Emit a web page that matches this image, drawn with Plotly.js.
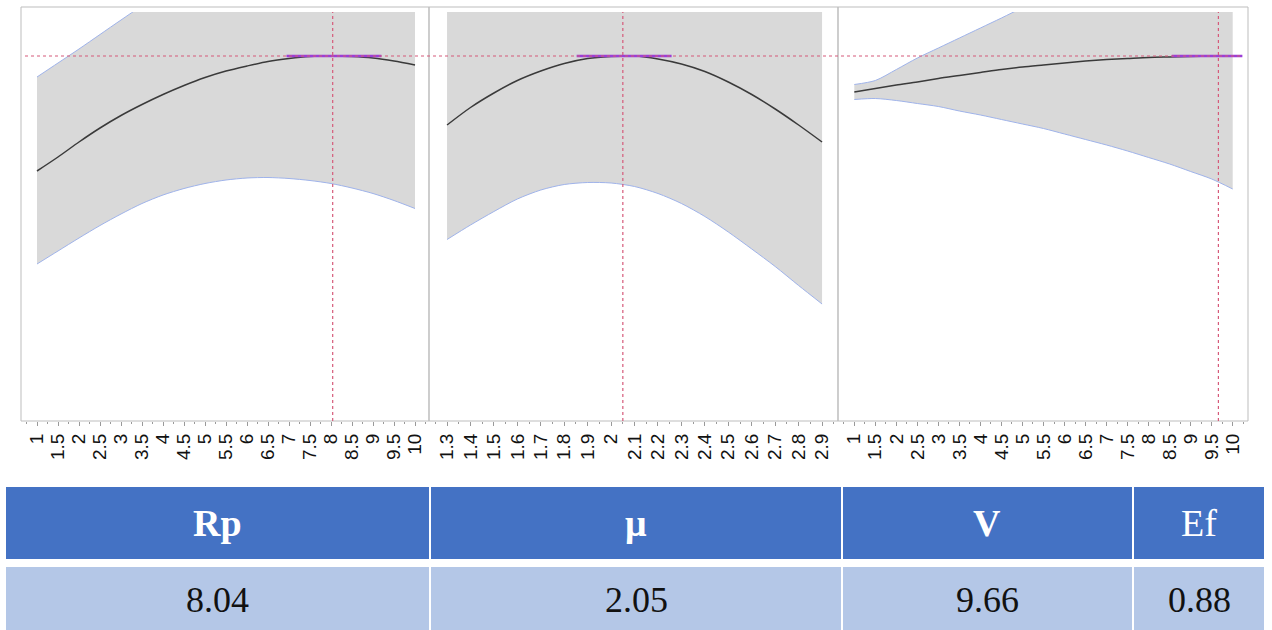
<!DOCTYPE html>
<html>
<head>
<meta charset="utf-8">
<script src="https://cdn.plot.ly/plotly-3.0.1.min.js"></script>
<style>html,body{margin:0;padding:0;background:#fff;}#chart{width:1272px;height:630px;}</style>
</head>
<body>
<div id="chart"></div>
<script>
// ---------------- data ----------------
const rpX = [1,1.5,2,2.5,3,3.5,4,4.5,5,5.5,6,6.5,7,7.5,8,8.5,9,9.5,10];
const rpMean  = [0.650,0.678,0.708,0.736,0.761,0.783,0.803,0.821,0.837,0.850,0.860,0.869,0.875,0.879,0.880,0.879,0.876,0.870,0.862];
const rpLower = [0.464,0.490,0.516,0.541,0.564,0.585,0.602,0.615,0.625,0.632,0.636,0.637,0.635,0.631,0.625,0.616,0.605,0.591,0.575];
const rpUpper = [0.838,0.866,0.894,0.923,0.952,0.980,1.002,1.026,1.048,1.068,1.084,1.100,1.114,1.128,1.136,1.142,1.150,1.152,1.152];

const muX = [1.3,1.4,1.5,1.6,1.7,1.8,1.9,2.0,2.1,2.2,2.3,2.4,2.5,2.6,2.7,2.8,2.9];
const muMean  = [0.742,0.777,0.806,0.831,0.850,0.865,0.875,0.879,0.880,0.874,0.864,0.849,0.828,0.803,0.774,0.742,0.708];
const muLower = [0.513,0.542,0.569,0.594,0.612,0.623,0.627,0.626,0.619,0.605,0.585,0.559,0.528,0.494,0.459,0.421,0.384];
const muUpper = [0.970,1.008,1.039,1.069,1.089,1.107,1.123,1.133,1.139,1.142,1.142,1.136,1.118,1.101,1.081,1.060,1.033];

const vX = [1,1.5,2,2.5,3,3.5,4,4.5,5,5.5,6,6.5,7,7.5,8,8.5,9,9.5,10];
const vMean  = [0.808,0.815,0.822,0.828,0.835,0.841,0.847,0.853,0.858,0.862,0.866,0.870,0.873,0.875,0.877,0.878,0.879,0.880,0.880];
const vLower = [0.793,0.795,0.791,0.785,0.779,0.770,0.762,0.753,0.744,0.735,0.724,0.713,0.702,0.690,0.677,0.664,0.649,0.634,0.614];
const vUpper = [0.823,0.831,0.853,0.876,0.896,0.916,0.936,0.956,0.976,0.989,1.008,1.027,1.044,1.060,1.077,1.093,1.110,1.126,1.146];

// optimum settings and predicted desirability
const optNames  = ['Rp', 'μ', 'V'];
const optValues = [8.04, 2.05, 9.66];
const efValue = 0.88;
// near-optimal (flat) ranges drawn in purple
const bandLo = [6.94, 1.853, 8.55];
const bandHi = [9.20, 2.258, 10.23];

// table
const tableHeaders = ['<b>Rp</b>', '<b>μ</b>', '<b>V</b>', 'Ef'];
const tableValues  = ['8.04', '2.05', '9.66', '0.88'];

// ---------------- layout helpers ----------------
const W = 1272, H = 630;
const px = v => v / W;
const py = v => 1 - v / H;
const serif = 'Liberation Serif';

const panels = [
  {x: rpX, m: rpMean, lo: rpLower, up: rpUpper, xa: 'x',  ya: 'y'},
  {x: muX, m: muMean, lo: muLower, up: muUpper, xa: 'x2', ya: 'y2'},
  {x: vX,  m: vMean,  lo: vLower,  up: vUpper,  xa: 'x3', ya: 'y3'}
];

const ciColor = '#9fb3ea';
const fillColor = '#d9d9d9';
const refColor = '#d65a7a';
const purple = '#9b3fd6';

const traces = [];
panels.forEach((p, i) => {
  traces.push({x: p.x, y: p.lo, xaxis: p.xa, yaxis: p.ya, type: 'scatter', mode: 'lines',
    line: {color: ciColor, width: 1, shape: 'spline', smoothing: 0.8}, hoverinfo: 'skip', showlegend: false});
  traces.push({x: p.x, y: p.up, xaxis: p.xa, yaxis: p.ya, type: 'scatter', mode: 'lines',
    fill: 'tonexty', fillcolor: fillColor,
    line: {color: ciColor, width: 1, shape: 'spline', smoothing: 0.8}, hoverinfo: 'skip', showlegend: false});
  traces.push({x: p.x, y: p.m, xaxis: p.xa, yaxis: p.ya, type: 'scatter', mode: 'lines',
    line: {color: '#3a3a3a', width: 1.5, shape: 'spline', smoothing: 0.8}, showlegend: false});
  traces.push({x: [bandLo[i], bandHi[i]], y: [efValue, efValue], xaxis: p.xa, yaxis: p.ya,
    type: 'scatter', mode: 'lines', line: {color: purple, width: 2.5}, showlegend: false, cliponaxis: false});
});

// panel frames (pixel boxes)
const frames = [[21, 429], [429, 838], [838, 1248]];
const ranges = [[0.619, 10.333], [1.223, 2.968], [0.612, 10.364]];
const ticks0 = [1, 1.3, 1];
const dticks = [0.5, 0.1, 0.5];
const ydom = [py(421), py(12)];
const yrange = [0.150, 0.968];

const layout = {
  width: W, height: H,
  margin: {l: 0, r: 0, t: 0, b: 0},
  paper_bgcolor: '#fff', plot_bgcolor: 'rgba(0,0,0,0)',
  showlegend: false,
  shapes: [], annotations: []
};

frames.forEach((f, i) => {
  const s = i === 0 ? '' : String(i + 1);
  layout['xaxis' + s] = {
    domain: [px(f[0]), px(f[1])], range: ranges[i], anchor: 'y' + s,
    tick0: ticks0[i], dtick: dticks[i], tickangle: -90,
    ticks: 'outside', ticklen: 4, tickcolor: '#9a9a9a', tickwidth: 1,
    minor: {dtick: dticks[i] / 2, ticks: 'outside', ticklen: 2, tickcolor: '#9a9a9a', showgrid: false},
    tickfont: {family: 'Liberation Sans', size: 19, color: '#111'},
    showgrid: false, zeroline: false, showline: false, fixedrange: true
  };
  layout['yaxis' + s] = {
    domain: ydom, range: yrange, anchor: 'x' + s,
    showticklabels: false, ticks: '', showgrid: false, zeroline: false, showline: false, fixedrange: true
  };
  layout.shapes.push({type: 'rect', xref: 'paper', yref: 'paper',
    x0: px(f[0]), x1: px(f[1]), y0: py(421), y1: py(7),
    line: {color: '#bdbdbd', width: 1}, fillcolor: 'rgba(0,0,0,0)'});
  // vertical reference at optimum
  layout.shapes.push({type: 'line', xref: 'x' + s, yref: 'y' + s + ' domain',
    x0: optValues[i], x1: optValues[i], y0: 0, y1: 1,
    line: {color: refColor, width: 1.2, dash: 'dot'}});
});
// horizontal reference at predicted desirability
layout.shapes.push({type: 'line', xref: 'paper', yref: 'y',
  x0: px(25), x1: px(1242), y0: efValue, y1: efValue,
  line: {color: refColor, width: 1.2, dash: 'dot'}});

// table (header + value rows)
const cols = [[6, 429], [431, 841], [843, 1132], [1134, 1264]];
cols.forEach((c, i) => {
  layout.shapes.push({type: 'rect', xref: 'paper', yref: 'paper', layer: 'below',
    x0: px(c[0]), x1: px(c[1]), y0: py(559), y1: py(487), line: {width: 0}, fillcolor: '#4472C4'});
  layout.shapes.push({type: 'rect', xref: 'paper', yref: 'paper', layer: 'below',
    x0: px(c[0]), x1: px(c[1]), y0: py(634), y1: py(567), line: {width: 0}, fillcolor: '#B4C7E7'});
  layout.annotations.push({xref: 'paper', yref: 'paper', x: px((c[0] + c[1]) / 2), y: py(523),
    xanchor: 'center', yanchor: 'middle', showarrow: false, text: tableHeaders[i],
    font: {family: serif, size: 38, color: '#ffffff'}});
  layout.annotations.push({xref: 'paper', yref: 'paper', x: px((c[0] + c[1]) / 2), y: py(600),
    xanchor: 'center', yanchor: 'middle', showarrow: false, text: tableValues[i],
    font: {family: serif, size: 36, color: '#111111'}});
});

Plotly.newPlot('chart', traces, layout, {displayModeBar: false, staticPlot: true});
</script>
</body>
</html>
